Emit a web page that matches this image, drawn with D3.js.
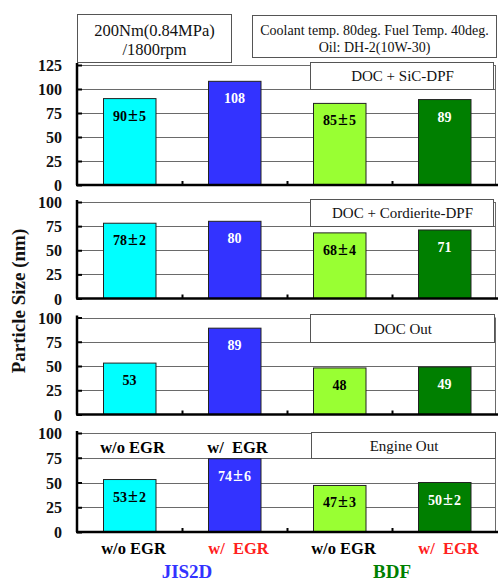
<!DOCTYPE html>
<html><head><meta charset="utf-8">
<script src="https://cdn.jsdelivr.net/npm/d3@7/dist/d3.min.js"></script>
<style>body{margin:0;background:#fff}svg{display:block}svg text{font-family:"Liberation Serif","Times New Roman",serif !important}</style>
</head><body>
<svg id="c" width="499" height="581"></svg>
<script>
// ---- data ----
const categories = ["JIS2D w/o EGR", "JIS2D w/ EGR", "BDF w/o EGR", "BDF w/ EGR"];
const catLabels = ["w/o EGR", "w/  EGR", "w/o EGR", "w/  EGR"];
const fuels = ["JIS2D", "BDF"];
const panelNames = ["DOC + SiC-DPF", "DOC + Cordierite-DPF", "DOC Out", "Engine Out"];
const sicValues = [90, 108, 85, 89];
const sicLabels = ["90±5", "108", "85±5", "89"];
const cordValues = [78, 80, 68, 71];
const cordLabels = ["78±2", "80", "68±4", "71"];
const docValues = [53, 89, 48, 49];
const docLabels = ["53", "89", "48", "49"];
const engValues = [53, 74, 47, 50];
const engLabels = ["53±2", "74±6", "47±3", "50±2"];
const ticks125 = [0, 25, 50, 75, 100, 125];
const ticks100 = [0, 25, 50, 75, 100];
const yAxisTitle = "Particle Size (nm)";
const titleLeft = ["200Nm(0.84MPa)", "/1800rpm"];
const titleRight = ["Coolant temp. 80deg. Fuel Temp. 40deg.", "Oil: DH-2(10W-30)"];

const barColors = ["#00ffff", "#3333ff", "#99ff33", "#007f00"];
const labelColors = ["#000", "#fff", "#000", "#fff"];
const catTextColors = ["#000", "#ff2020", "#000", "#ff2020"];
const fuelColors = ["#3333ff", "#008000"];

const panels = [
  {name: panelNames[0], values: sicValues, labels: sicLabels, max: 125, ticks: ticks125, top: 65, bottom: 185, box: [310, 62, 493, 89]},
  {name: panelNames[1], values: cordValues, labels: cordLabels, max: 100, ticks: ticks100, top: 202, bottom: 298.5, box: [310, 199, 493, 226]},
  {name: panelNames[2], values: docValues, labels: docLabels, max: 100, ticks: ticks100, top: 317.5, bottom: 414.5, box: [310, 314, 494, 342]},
  {name: panelNames[3], values: engValues, labels: engLabels, max: 100, ticks: ticks100, top: 433, bottom: 532, box: [311, 432, 495, 458]}
];

const FONT = "'Liberation Serif','Times New Roman',serif";
const svg = d3.select("#c").attr("font-family", FONT);
const x0 = 77, x1 = 497;
const x = d3.scaleBand().domain(categories).range([x0, x1]).padding(0);
const bw = x.bandwidth() * 0.5;

function addLabel(g, txt, cx, y, color, size) {
  const t = g.append("text").attr("x", cx).attr("y", y).attr("text-anchor", "middle")
    .attr("font-family", FONT).attr("font-weight", "bold").attr("font-size", size).attr("fill", color);
  const parts = txt.split("±");
  if (parts.length === 1) { t.text(txt); return; }
  t.append("tspan").text(parts[0]);
  t.append("tspan").attr("dx", 1).attr("font-size", size + 4).text("±");
  t.append("tspan").attr("dx", 1).text(parts[1]);
}

panels.forEach((p, pi) => {
  const g = svg.append("g");
  const y = d3.scaleLinear().domain([0, p.max]).range([p.bottom, p.top]);
  // gridlines
  g.selectAll(".grid").data(p.ticks.filter(t => t > 0)).enter().append("line")
    .attr("x1", x0).attr("x2", x1 - 1).attr("y1", d => Math.round(y(d)) + 0.5).attr("y2", d => Math.round(y(d)) + 0.5)
    .attr("stroke", "#6a6a6a").attr("stroke-width", 1);
  // right border
  g.append("line").attr("x1", x1 - 1.5).attr("x2", x1 - 1.5).attr("y1", p.top).attr("y2", p.bottom)
    .attr("stroke", "#6a6a6a").attr("stroke-width", 1);
  // label box
  const b = p.box;
  g.append("rect").attr("x", b[0] + 0.5).attr("y", b[1] + 0.5).attr("width", b[2] - b[0]).attr("height", b[3] - b[1])
    .attr("fill", "#fff").attr("stroke", "#555").attr("stroke-width", 1);
  g.append("text").attr("x", (b[0] + b[2]) / 2 + 1).attr("y", (b[1] + b[3]) / 2 + 5.5).attr("text-anchor", "middle")
    .attr("font-family", FONT).attr("font-size", 15).attr("fill", "#111").text(p.name);
  // bars
  g.selectAll(".bar").data(p.values).enter().append("rect")
    .attr("x", (d, i) => Math.round(x(categories[i]) + (x.bandwidth() - bw) / 2) + 0.5)
    .attr("y", d => y(d))
    .attr("width", bw).attr("height", d => p.bottom - y(d))
    .attr("fill", (d, i) => barColors[i]).attr("stroke", "#222").attr("stroke-width", 1);
  // bar labels
  p.values.forEach((v, i) => {
    addLabel(g, p.labels[i], x(categories[i]) + x.bandwidth() / 2, y(v) + 22, labelColors[i], 14);
  });
  // y axis
  const ya = d3.axisLeft(y).tickValues(p.ticks).tickSize(-5).tickPadding(15).tickFormat(d3.format("d"));
  const ag = g.append("g").attr("transform", `translate(${x0},0)`).call(ya).attr("font-family", FONT);
  ag.select(".domain").attr("stroke", "#000").attr("stroke-width", 2.5).attr("d", `M0,${p.top - 2}V${p.bottom}`);
  ag.selectAll(".tick line").attr("stroke", "#000").attr("stroke-width", 2);
  ag.selectAll(".tick text").attr("font-size", 16).attr("font-weight", "bold").attr("fill", "#111")
    .attr("font-family", FONT).attr("dy", "0.35em");
  // x axis
  const xa = g.append("g").attr("transform", `translate(0,${p.bottom})`)
    .call(d3.axisBottom(x).tickValues([]).tickSize(0));
  xa.select(".domain").attr("stroke", "#000").attr("stroke-width", 2.5).attr("d", `M${x0 - 1},0H${x1 + 1}`);
  xa.selectAll(".bt").data(categories.slice(1)).enter().append("line")
    .attr("x1", d => x(d) + 0.5).attr("x2", d => x(d) + 0.5).attr("y1", 0).attr("y2", -4)
    .attr("stroke", "#000").attr("stroke-width", 2);
  if (pi === 3) {
    [0, 1].forEach(i => {
      g.append("text").attr("x", x(categories[i]) + x.bandwidth() / 2 + 3).attr("y", 453)
        .attr("text-anchor", "middle").attr("font-family", FONT).attr("font-weight", "bold").attr("font-size", 16.5)
        .attr("fill", "#000").style("white-space", "pre").text(catLabels[i]);
    });
  }
});

// category labels
categories.forEach((c, i) => {
  svg.append("text").attr("x", x(c) + x.bandwidth() / 2 + 4).attr("y", 554)
    .attr("text-anchor", "middle").attr("font-family", FONT).attr("font-weight", "bold").attr("font-size", 16.5)
    .attr("fill", catTextColors[i]).style("white-space", "pre").text(catLabels[i]);
});
fuels.forEach((f, i) => {
  const cx = (x(categories[i * 2]) + x(categories[i * 2 + 1]) + x.bandwidth()) / 2;
  svg.append("text").attr("x", cx + 5 - i * 5).attr("y", 578)
    .attr("text-anchor", "middle").attr("font-family", FONT).attr("font-weight", "bold").attr("font-size", 19)
    .attr("fill", fuelColors[i]).text(f);
});

// y axis title
svg.append("text").attr("transform", "translate(25,301) rotate(-90)").attr("text-anchor", "middle")
  .attr("font-family", FONT).attr("font-weight", "bold").attr("font-size", 19).attr("fill", "#111").text(yAxisTitle);

// title boxes
svg.append("rect").attr("x", 77.5).attr("y", 14.5).attr("width", 154).attr("height", 48)
  .attr("fill", "#fff").attr("stroke", "#555");
titleLeft.forEach((t, i) => svg.append("text").attr("x", 154.5).attr("y", 36 + i * 19)
  .attr("text-anchor", "middle").attr("font-family", FONT).attr("font-size", 16.5).attr("fill", "#111").text(t));
svg.append("rect").attr("x", 252.5).attr("y", 15.5).attr("width", 244).attr("height", 42)
  .attr("fill", "#fff").attr("stroke", "#555");
titleRight.forEach((t, i) => svg.append("text").attr("x", 374.5).attr("y", 35 + i * 17)
  .attr("text-anchor", "middle").attr("font-family", FONT).attr("font-size", 14).attr("fill", "#111").text(t));
</script>
</body></html>
